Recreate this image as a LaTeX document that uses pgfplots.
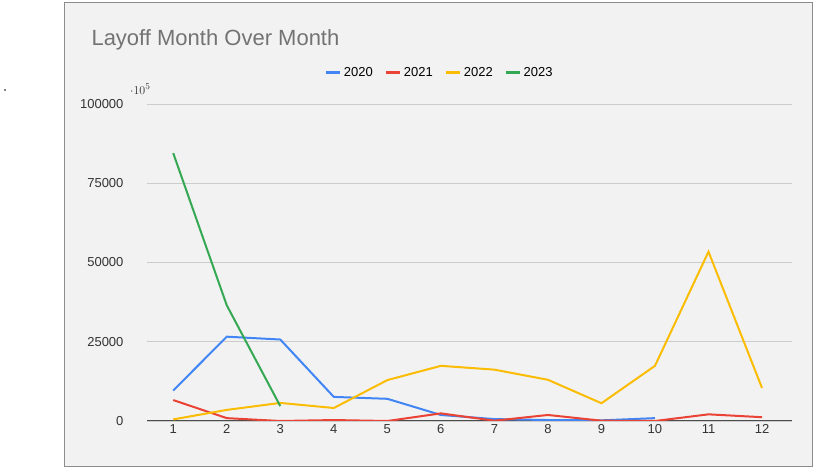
\documentclass[border=0pt]{standalone}
\usepackage{pgfplots}
\pgfplotsset{compat=1.18}
\usepackage{fontspec}
\setmainfont{Liberation Sans}
\definecolor{c20}{HTML}{4285F4}
\definecolor{c21}{HTML}{EA4335}
\definecolor{c22}{HTML}{FBBC04}
\definecolor{c23}{HTML}{34A853}
\begin{document}
\begin{tikzpicture}[x=1pt,y=1pt]
\useasboundingbox (0,0) rectangle (820,468);
\fill[white] (0,0) rectangle (820,468);
\filldraw[fill=black!5,draw=black!45] (64,2) rectangle (812,466);
\fill (5,378) circle (0.8);
\node[anchor=base west,text=black!55,font=\fontsize{22}{24}\selectfont] at (88,422) {Layoff Month Over Month};
\begin{axis}[at={(147pt,47pt)},anchor=south west,scale only axis,
 width=645pt,height=317pt,xmin=0.51,xmax=12.56,ymin=0,ymax=100000,
 xtick={1,2,3,4,5,6,7,8,9,10,11,12},xticklabels={1,2,3,4,5,6,7,8,9,10,11,12},
 ytick={0,25000,50000,75000,100000},yticklabels={0,25000,50000,75000,100000},
 ymajorgrids,grid style={black!20,line width=0.8pt},
 axis line style={draw=none},
 tick style={draw=none},
 ticklabel style={font=\fontsize{13}{15}\selectfont,text=black!80},
 yticklabel style={xshift=-20pt},
 legend columns=4,
 legend style={at={(0.454,1.098)},anchor=center,draw=none,fill=none,font=\fontsize{13}{15}\selectfont,/tikz/every even column/.append style={column sep=10pt}},
 legend image code/.code={\draw[#1,line width=3pt] (0pt,0pt) -- (14pt,0pt);},
 every axis plot/.append style={line width=2pt,no marks},
]
\draw[black!70,line width=1pt] (axis cs:0.51,0) -- (axis cs:12.56,0);
\addplot[c20] coordinates {(1,9600)(2,26600)(3,25700)(4,7600)(5,7000)(6,1900)(7,600)(8,300)(9,200)(10,900)};
\addplot[c21] coordinates {(1,6600)(2,900)(3,0)(4,300)(5,0)(6,2400)(7,100)(8,1900)(9,100)(10,0)(11,2100)(12,1200)};
\addplot[c22] coordinates {(1,500)(2,3500)(3,5700)(4,4100)(5,12900)(6,17400)(7,16200)(8,13000)(9,5600)(10,17400)(11,53400)(12,10400)};
\addplot[c23] coordinates {(1,84500)(2,36500)(3,4700)};
\legend{2020,2021,2022,2023}
\end{axis}
\end{tikzpicture}
\end{document}
